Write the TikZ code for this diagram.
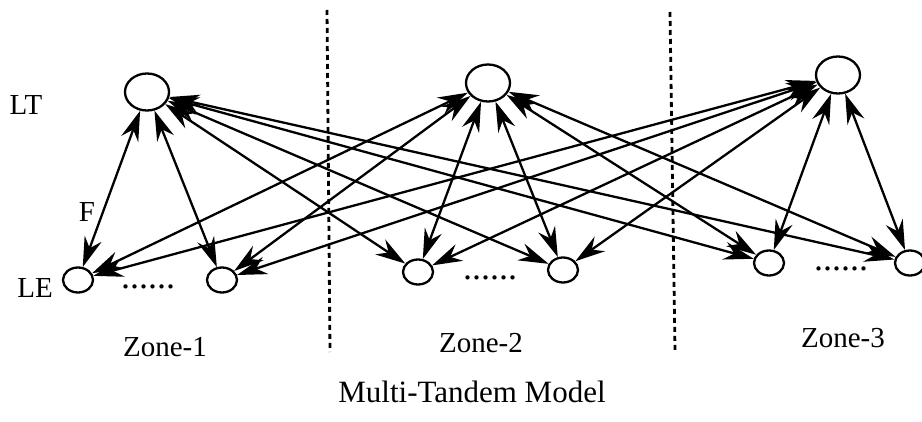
\documentclass[tikz,border=0pt]{standalone}
\usepackage{fontspec}
\setmainfont{Liberation Serif}
\usetikzlibrary{arrows.meta,shapes.geometric}

\begin{document}
\begin{tikzpicture}[x=1pt,y=-1pt,line width=2.3pt,
  >={Stealth[length=30pt,width=18pt,inset=10pt]},
  lt/.style={draw,ellipse,minimum width=44pt,minimum height=37pt,inner sep=0pt},
  le/.style={draw,ellipse,minimum width=30pt,minimum height=25pt,inner sep=0pt},
  link/.style={<->},
  zoneline/.style={line width=2.8pt,dash pattern=on 5pt off 4pt},
  txt/.style={font=\fontsize{29}{33}\selectfont,inner sep=0pt},
  dots/.style={font=\fontsize{36}{40}\selectfont,inner sep=0pt,anchor=base}]
  \useasboundingbox (0,0) rectangle (922,422);

  % terminals on top, end nodes below
  \node[lt] (lt1) at (147,92) {};
  \node[lt] (lt2) at (488,83) {};
  \node[lt] (lt3) at (838,75) {};
  \node[le] (le1) at (78,280) {};
  \node[le] (le2) at (222,280) {};
  \node[le] (le3) at (418,272) {};
  \node[le] (le4) at (563,270) {};
  \node[le] (le5) at (769,263) {};
  \node[le] (le6) at (910,263) {};

  % every terminal talks to every end node
  \foreach \t in {1,2,3}
    \foreach \e in {1,...,6}
      \draw[link] (lt\t) -- (le\e);

  % zone borders
  \coordinate (b1top) at (327,10);
  \coordinate (b1bot) at (330,352);
  \coordinate (b2top) at (670,12);
  \coordinate (b2bot) at (675,350);
  \draw[zoneline] (b1top) -- (b1bot);
  \draw[zoneline] (b2top) -- (b2bot);

  \node[txt] (ltlab) at (26,105) {LT};
  \node[txt] (lelab) at (35,288) {LE};
  \node[txt] (flab) at (87,212) {F};
  \node[dots] (dots1) at (148,289) {......};
  \node[dots] (dots2) at (490,280) {......};
  \node[dots] (dots3) at (841,271) {......};

  \node[txt] (zone1) at (165,347) {Zone-1};
  \node[txt] (zone2) at (481,343) {Zone-2};
  \node[txt] (zone3) at (843,338) {Zone-3};
  \node[txt,font=\fontsize{31}{35}\selectfont] (model) at (472,392) {Multi-Tandem Model};
\end{tikzpicture}
\end{document}
